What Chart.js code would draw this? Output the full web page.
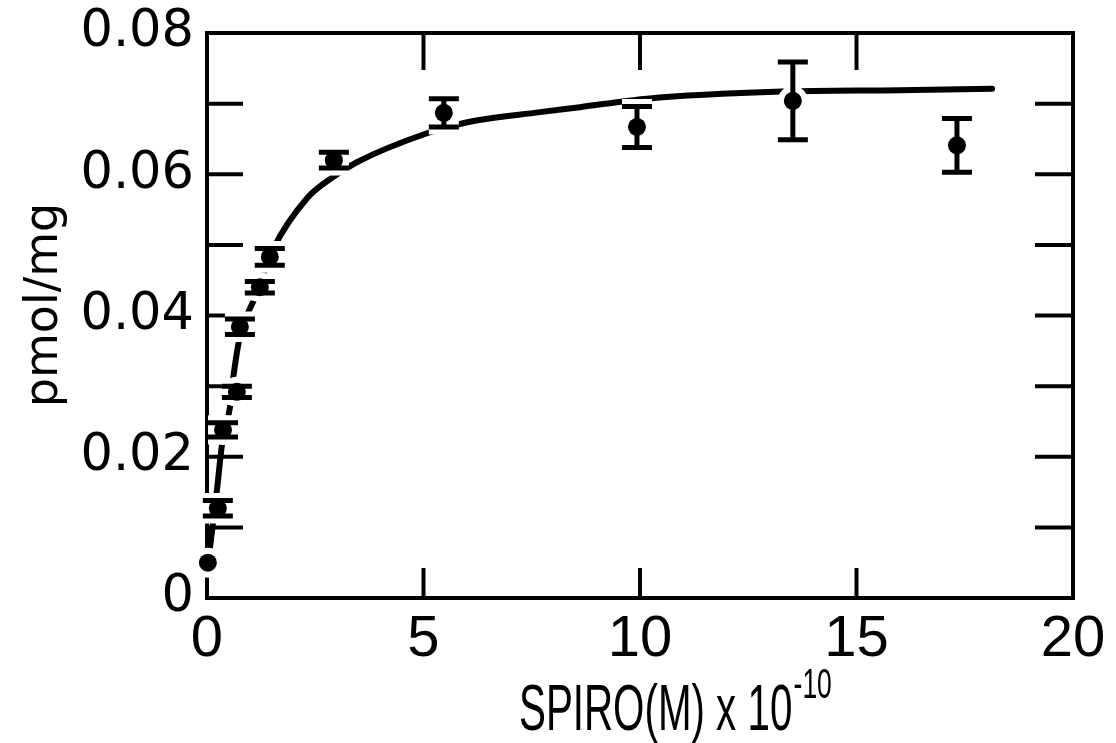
<!DOCTYPE html>
<html>
<head>
<meta charset="utf-8">
<script src="https://cdn.jsdelivr.net/npm/chart.js@4"></script>
<style>
  html, body { margin: 0; background: #fff; }
</style>
</head>
<body>
<canvas id="chart" width="1116" height="743"></canvas>
<script>
// binding data
const spiroX = [0.02, 0.25, 0.37, 0.69, 0.76, 1.22, 1.45, 2.93, 5.47, 9.93, 13.53, 17.32];
const boundY = [0.0050, 0.0127, 0.0238, 0.0292, 0.0384, 0.0440, 0.0483, 0.0620, 0.0687, 0.0667, 0.0704, 0.0641];
const boundErr = [0, 0.0011, 0.0010, 0.0008, 0.0011, 0.0008, 0.0012, 0.0011, 0.0020, 0.0029, 0.0055, 0.0038];

// fitted saturation curve (traced)
const curveX = [0.02, 0.23, 0.35, 0.53, 0.60, 0.76, 1.11, 1.52, 2.31, 2.91, 3.46, 5.08, 5.96, 7.69, 8.61, 10.16, 13.28, 16.0, 18.13];
const curveY = [0.0047, 0.0153, 0.0219, 0.0270, 0.0309, 0.0370, 0.0426, 0.0493, 0.0566, 0.0596, 0.0617, 0.0658, 0.0673, 0.0688, 0.0695, 0.0707, 0.0717, 0.0719, 0.0721];

// axes
const xTicks = [0, 5, 10, 15, 20];
const xInnerTicks = [5, 10, 15];
const yTicks = [0, 0.02, 0.04, 0.06, 0.08];
const yTickLabels = ['0', '0.02', '0.04', '0.06', '0.08'];
const yInnerTicks = [0.01, 0.02, 0.03, 0.04, 0.05, 0.06, 0.07];

const xTitle = 'SPIRO(M) x 10';
const xTitleExp = '-10';
const yTitle = 'pmol/mg';

// frame + inward ticks
const framePlugin = {
    id: 'frame',
    beforeDatasetsDraw(chart) {
        const { ctx, chartArea: a, scales } = chart;
        ctx.save();
        ctx.strokeStyle = '#000';
        ctx.lineWidth = 4;
        ctx.lineCap = 'square';
        ctx.strokeRect(a.left, a.top, a.right - a.left, a.bottom - a.top);
        ctx.beginPath();
        yInnerTicks.forEach(v => {
            const y = scales.y.getPixelForValue(v);
            ctx.moveTo(a.left, y); ctx.lineTo(a.left + 34, y);
            ctx.moveTo(a.right, y); ctx.lineTo(a.right - 36, y);
        });
        xInnerTicks.forEach(v => {
            const x = scales.x.getPixelForValue(v);
            ctx.moveTo(x, a.bottom); ctx.lineTo(x, a.bottom - 28);
            ctx.moveTo(x, a.top); ctx.lineTo(x, a.top + 35);
        });
        ctx.stroke();
        ctx.restore();
    }
};

// error bars drawn right after the curve, with a white halo that breaks the curve
const errorBarPlugin = {
    id: 'errorBars',
    afterDatasetDraw(chart, args) {
        if (args.index !== 0) return;
        const { ctx, scales } = chart;
        const capHalf = 15;
        const passes = [
            { color: '#fff', width: 15, halo: 6 },
            { color: '#000', width: 5, halo: 0 }
        ];
        ctx.save();
        passes.forEach(p => {
            ctx.strokeStyle = p.color;
            ctx.fillStyle = p.color;
            ctx.lineWidth = p.width;
            ctx.lineCap = 'butt';
            spiroX.forEach((xv, i) => {
                const x = scales.x.getPixelForValue(xv);
                const yc = scales.y.getPixelForValue(boundY[i]);
                if (boundErr[i] > 0) {
                    const yt = scales.y.getPixelForValue(boundY[i] + boundErr[i]);
                    const yb = scales.y.getPixelForValue(boundY[i] - boundErr[i]);
                    ctx.beginPath();
                    ctx.moveTo(x, yt); ctx.lineTo(x, yb);
                    ctx.moveTo(x - capHalf, yt); ctx.lineTo(x + capHalf, yt);
                    ctx.moveTo(x - capHalf, yb); ctx.lineTo(x + capHalf, yb);
                    ctx.stroke();
                }
                if (p.halo) {
                    ctx.beginPath();
                    ctx.arc(x, yc, 9 + p.halo, 0, Math.PI * 2);
                    ctx.fill();
                }
            });
        });
        ctx.restore();
    }
};

// axis titles
const titlePlugin = {
    id: 'titles',
    afterDraw(chart) {
        const ctx = chart.ctx;
        ctx.save();
        ctx.fillStyle = '#000';
        // y title
        ctx.save();
        ctx.translate(57, 305);
        ctx.rotate(-Math.PI / 2);
        ctx.font = '46px "DejaVu Sans"';
        ctx.textAlign = 'center';
        ctx.textBaseline = 'alphabetic';
        ctx.fillText(yTitle, 0, 0);
        ctx.restore();
        // x title, condensed like the original lettering
        ctx.save();
        ctx.translate(519, 730);
        ctx.scale(0.63, 1);
        ctx.font = '64px "Liberation Sans"';
        ctx.textAlign = 'left';
        ctx.textBaseline = 'alphabetic';
        ctx.fillText(xTitle, 0, 0);
        const w = ctx.measureText(xTitle).width;
        ctx.font = '42px "Liberation Sans"';
        ctx.fillText(xTitleExp, w + 2, -32);
        ctx.restore();
        ctx.restore();
    }
};

new Chart(document.getElementById('chart'), {
    type: 'scatter',
    data: {
        datasets: [
            {
                type: 'line',
                data: curveX.map((x, i) => ({ x, y: curveY[i] })),
                borderColor: '#000',
                borderWidth: 6,
                borderCapStyle: 'round',
                cubicInterpolationMode: 'monotone',
                pointRadius: 0,
                fill: false,
                clip: false,
                order: 2
            },
            {
                data: spiroX.map((x, i) => ({ x, y: boundY[i] })),
                backgroundColor: '#000',
                borderWidth: 0,
                pointRadius: 9,
                clip: false,
                order: 1
            }
        ]
    },
    options: {
        responsive: false,
        animation: false,
        layout: { padding: { left: 0, right: 43, top: 33, bottom: 0 } },
        plugins: { legend: { display: false }, tooltip: { enabled: false } },
        scales: {
            x: {
                type: 'linear',
                min: 0, max: 20,
                afterBuildTicks: s => { s.ticks = xTicks.map(v => ({ value: v })); },
                afterFit: s => { s.height = 145; s.paddingLeft = 0; s.paddingRight = 0; },
                grid: { display: false, drawTicks: false },
                border: { display: false },
                ticks: {
                    color: '#000',
                    padding: 13,
                    maxRotation: 0,
                    font: { family: 'Liberation Sans', size: 58, lineHeight: 1 }
                }
            },
            y: {
                type: 'linear',
                min: 0, max: 0.08,
                afterBuildTicks: s => { s.ticks = yTicks.map(v => ({ value: v })); },
                afterFit: s => { s.width = 207; s.paddingTop = 0; s.paddingBottom = 0; },
                grid: { display: false, drawTicks: false },
                border: { display: false },
                ticks: {
                    color: '#000',
                    padding: 13,
                    callback: (v) => yTickLabels[yTicks.indexOf(v)] ?? '',
                    font: { family: 'DejaVu Sans', size: 51, lineHeight: 1 }
                }
            }
        }
    },
    plugins: [framePlugin, errorBarPlugin, titlePlugin]
});
</script>
</body>
</html>
